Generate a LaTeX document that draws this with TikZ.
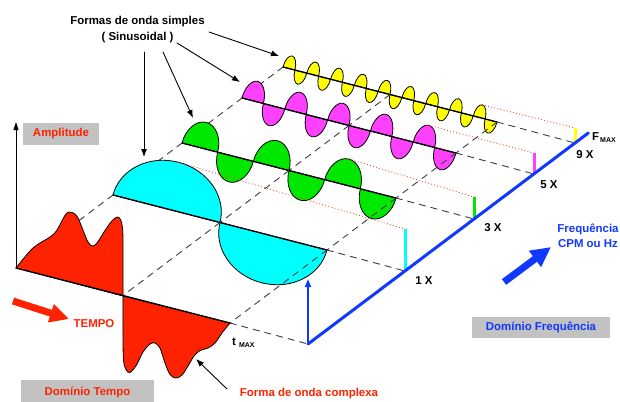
\documentclass[tikz,border=0pt]{standalone}
\usepackage{fontspec}
\setmainfont{Liberation Sans}
\usetikzlibrary{calc,arrows.meta}
\definecolor{wred}{RGB}{255,34,0}
\definecolor{wcyan}{RGB}{0,255,255}
\definecolor{wgreen}{RGB}{0,232,0}
\definecolor{wmagenta}{RGB}{255,64,255}
\definecolor{wyellow}{RGB}{255,255,0}
\definecolor{fblue}{RGB}{16,56,255}
\definecolor{boxgray}{RGB}{194,194,194}
\definecolor{dgray}{RGB}{60,60,60}
\definecolor{dotred}{RGB}{255,60,40}
\begin{document}
\begin{tikzpicture}[x=1bp,y=-1bp,line cap=round,line join=round,
  font=\fontsize{11.5}{13}\selectfont\bfseries,
  wave/.style={draw=black,line width=0.8bp},
  base/.style={line width=1.3bp},
  guide/.style={draw=dgray,line width=0.9bp,dash pattern=on 6.5bp off 5.5bp},
  proj/.style={draw=dotred,line width=1.2bp,dash pattern=on 0bp off 3.2bp},
  amptick/.style={line width=3bp,line cap=butt},
  lbox/.style={fill=boxgray,inner sep=0pt},
  callout/.style={line width=0.9bp,-{Latex[length=8bp,width=6bp]}},
  fat/.style={line cap=butt,line join=miter}]
  \useasboundingbox (0,0) rectangle (620,401);

  % start of each time base, red (complex) to yellow (9 X)
  \coordinate (r-a) at (16,268);
  \coordinate (c-a) at (113,195);
  \coordinate (g-a) at (182,143);
  \coordinate (m-a) at (242,98);
  \coordinate (y-a) at (283,67);
  \foreach \s in {r,c,g,m,y}{
    \coordinate (\s-m) at ($(\s-a)+(107,27.5)$);
    \coordinate (\s-b) at ($(\s-a)+(214,55)$);
    \coordinate (\s-f) at ($(\s-a)+(292,76)$);
  }
  \coordinate (fend) at ($(r-f)!1.05!(y-f)$);

  % simple waves, back to front
  \foreach \s/\n/\a/\h/\col/\nx in {y/9/13/15/wyellow/m, m/5/20/21/wmagenta/g,
      g/3/26/22/wgreen/c, c/1/48/42/wcyan/r}{
    \begin{scope}[shift={(\s-a)},x={(214bp,-55bp)},y={(0.2489bp,0.9686bp)}]
      \pgfmathtruncatemacro\last{2*\n-1}
      \foreach \k in {0,...,\last}{
        \pgfmathsetmacro\endang{360*mod(\k,2)}
        \filldraw[wave,fill=\col] ({\k/(2*\n)},0)
          arc[start angle=180,end angle=\endang,x radius={1/(4*\n)},y radius=\a] -- cycle;
      }
      \coordinate (\s-p) at ({1-3/(4*\n)},\a);
    \end{scope}
    \draw[base] (\s-a) -- (\s-b);
    \draw[guide] (\s-b) -- (\s-f);
    \coordinate (\s-t) at ($(\s-f)+(0,-\h)$);
    \draw[amptick,draw=\col] (\s-f) -- (\s-t);
    \draw[proj] (\s-p) -- (\s-t);
    \draw[guide] (\s-a) -- (\nx-a) (\s-m) -- (\nx-m) (\s-b) -- (\nx-b);
  }

  % complex wave
  \filldraw[wave,fill=wred] plot[smooth,tension=0.55] coordinates {(16,268) (33,248)
    (50,237) (57,230) (66,214) (72,212.5) (78,218) (87,240) (92,246) (97,243)
    (104,232) (111,222) (117,217) (120.5,219.5) (122.5,228) (123,245) (123,296)} -- cycle;
  \filldraw[wave,fill=wred] plot[smooth,tension=0.55] coordinates {(123,296) (123,335)
    (123.5,360) (126,369.5) (130,372.5) (136.5,365) (143,352) (150,344) (155,343)
    (160,348) (165,363) (170,374.5) (176,378) (182,375) (188,366) (194,356)
    (200,350.5) (208,348) (215,343) (222,333) (230,323)} -- cycle;
  \draw[base] (r-a) -- (r-b);
  \draw[guide] (r-b) -- (r-f);

  % axes
  \coordinate (amptop) at (16,122);
  \draw[line width=0.9bp,-{Triangle[length=8bp,width=5bp]}] (r-a) -- (amptop);
  \draw[line width=3bp,draw=fblue] (r-f) -- (fend);
  \coordinate (fup) at ($(r-f)+(0,-65)$);
  \draw[line width=2.2bp,draw=fblue,-{Triangle[length=8bp,width=6bp]}] (r-f) -- (fup);

  % labels
  \node (simples) at (137.5,22) {Formas de onda simples};
  \node (sinus) at (137.5,37.5) {( Sinusoidal )};
  \node[lbox,text=wred,minimum width=76bp,minimum height=22bp] (amplbl) at (61,134) {Amplitude};
  \node[text=wred] (tempo) at (94,324) {TEMPO};
  \node[lbox,text=wred,minimum width=133bp,minimum height=24bp] (dtempo) at (87.5,392) {Domínio Tempo};
  \node[lbox,text=fblue,minimum width=138bp,minimum height=21bp] (dfreq) at (541,327.5) {Domínio Frequência};
  \node[text=wred] (complexa) at (309,394) {Forma de onda complexa};
  \node[anchor=base west,inner sep=0pt] (tmax) at (232,345)
    {t\hspace{3bp}\raisebox{-0.35ex}{\fontsize{7}{8}\selectfont MAX}};
  \node[anchor=base west,inner sep=0pt] (fmax) at (592,140)
    {F\hspace{1bp}\raisebox{-0.35ex}{\fontsize{7}{8}\selectfont MAX}};
  \node (x1) at (424,281) {1 X};
  \node (x3) at (493,228) {3 X};
  \node (x5) at (549,185) {5 X};
  \node (x9) at (585,155) {9 X};
  \node[text=fblue,align=center,inner sep=0pt,font=\fontsize{11.5}{15}\selectfont\bfseries] (freq)
    at (588,235.5) {Frequência\\CPM ou Hz};

  % callouts
  \coordinate (co1s) at (144,52);  \coordinate (co1e) at (144,157);
  \coordinate (co2s) at (163,52);  \coordinate (co2e) at (193,118);
  \coordinate (co3s) at (177,43);  \coordinate (co3e) at (240,82);
  \coordinate (co4s) at (209,32);  \coordinate (co4e) at (279,56);
  \coordinate (co5s) at (227,389); \coordinate (co5e) at (196,359);
  \foreach \i in {1,...,5}
    \draw[callout] (co\i s) -- (co\i e);

  % direction arrows
  \coordinate (ta) at (13,301); \coordinate (tb) at (69,319);
  \draw[fat,draw=wred,line width=7bp,-{Triangle[length=19bp,width=18bp]}] (ta) -- (tb);
  \coordinate (fa) at (504,282); \coordinate (fb) at (551,247);
  \draw[fat,draw=fblue,line width=7bp,-{Triangle[length=20bp,width=19bp]}] (fa) -- (fb);
\end{tikzpicture}
\end{document}
